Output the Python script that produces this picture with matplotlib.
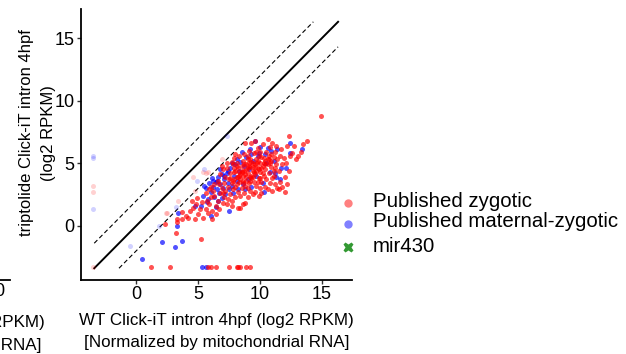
import matplotlib
matplotlib.use("Agg")
import matplotlib.pyplot as plt
from matplotlib.lines import Line2D

plt.rcParams['font.family'] = ['Liberation Sans', 'DejaVu Sans']

# ---------------- data ----------------
zyg_x = [2.3, 3.2, 3.3, 3.3, 3.7, 3.7, 4.0, 4.2, 4.35, 4.5, 4.75, 4.6, 4.9, 5.0, 5.15, 5.2, 5.3, 5.4, 4.8,
         5.6, 5.6, 5.8, 5.9, 6.0, 6.1, 6.1, 6.2, 6.3, 6.4, 6.0, 5.7, 6.3, 6.45, 5.9,
         6.6, 6.6, 6.7, 6.8, 6.8, 6.9, 7.0, 7.0, 7.1, 7.1, 7.2, 7.2, 7.3, 7.3, 7.4, 7.4, 7.5, 6.7, 7.0, 7.3, 6.9,
         7.6, 7.6, 7.7, 7.7, 7.75, 7.8, 7.8, 7.9, 7.9, 8.0, 8.0, 8.0, 8.1, 8.1, 8.2, 8.2, 8.2, 8.3, 8.3, 8.4, 8.4, 8.4,
         8.5, 8.5, 7.6, 7.9, 8.1, 8.3, 7.7, 8.0,
         8.6, 8.6, 8.6, 8.7, 8.7, 8.8, 8.8, 8.8, 8.9, 8.9, 9.0, 9.0, 9.0, 9.1, 9.1, 9.2, 9.2, 9.2, 9.3, 9.3, 9.4, 9.4,
         9.4, 9.5, 9.5, 8.7, 9.0, 9.3, 8.9, 9.1, 9.2, 9.45,
         9.6, 9.6, 9.6, 9.7, 9.7, 9.8, 9.8, 9.9, 9.9, 10.0, 10.0, 10.0, 10.1, 10.1, 10.2, 10.2, 10.3, 10.3, 10.4, 10.4,
         10.5, 10.5, 9.7, 9.9, 10.1, 10.3, 9.8, 10.0,
         10.6, 10.6, 10.6, 10.7, 10.7, 10.8, 10.8, 10.9, 10.9, 11.0, 11.0, 11.0, 11.1, 11.1, 11.2, 11.2, 11.3, 11.3,
         11.4, 11.4, 11.5, 11.5, 10.8, 11.1,
         11.6, 11.6, 11.7, 11.8, 11.9, 12.0, 12.0, 12.15, 12.2, 12.3, 12.4, 12.3, 11.8, 12.1,
         12.7, 12.9, 13.1, 13.3, 13.5, 13.8, 14.9, 12.6,
         8.4, 8.8, 9.6, 10.2, 9.1, 8.6, 9.9, 10.7, 8.2, 9.4, 7.8, 10.4, 9.0, 8.5, 9.7,
         8.3, 8.7, 9.0, 9.5, 9.8, 10.1, 10.4, 8.9, 9.3, 9.6, 10.0, 10.6, 8.5, 9.2, 7.9, 8.1, 10.9, 11.2, 9.75, 8.65,
         1.2, 2.7, 5.8, 6.0, 6.4, 7.5, 8.1, 8.2, 8.4, 8.9, 9.2]
zyg_y = [0.1, -0.6, 0.3, 0.5, 0.5, 1.1, 0.75, 0.6, 1.15, 1.95, 0.5, 1.4, 2.2, 0.9, 1.3, -1.1, 1.9, 0.65, 1.7,
         1.3, 2.6, 1.0, 1.7, 2.3, 1.15, 0.55, 2.8, 2.4, 1.6, 3.1, 2.0, 3.3, 0.9, 2.9,
         2.0, 3.6, 1.3, 2.6, 4.1, 3.0, 1.8, 4.5, 2.3, 3.4, 3.9, 2.8, 1.7, 4.6, 3.1, 2.1, 3.7, 3.3, 2.6, 5.0, 4.8,
         2.5, 4.2, 1.6, 3.4, 2.0, 4.9, 2.9, 3.7, 5.4, 2.3, 4.4, 3.1, 3.9, 5.0, 1.45, 2.7, 4.6, 3.5, 5.6, 2.4, 4.1, 1.4,
         3.0, 4.8, 3.8, 4.6, 3.3, 4.3, 5.1, 5.7,
         1.75, 3.6, 5.2, 2.6, 4.4, 6.6, 3.2, 1.8, 4.9, 3.9, 2.3, 5.6, 4.2, 3.4, 6.0, 2.8, 4.7, 5.3, 3.8, 6.6, 4.4, 2.5,
         5.0, 3.5, 5.8, 5.7, 3.0, 4.0, 4.5, 5.0, 3.6, 4.7,
         6.75, 4.1, 2.7, 5.3, 3.2, 4.6, 6.2, 3.8, 2.4, 5.0, 4.3, 5.9, 2.65, 3.5, 4.8, 6.5, 4.0, 5.4, 3.1, 4.5,
         5.9, 3.7, 4.4, 5.6, 4.6, 5.0, 3.5, 3.0,
         6.9, 4.9, 2.9, 4.2, 5.6, 3.4, 6.3, 4.7, 5.2, 3.8, 6.6, 2.8, 4.4, 5.5, 5.9, 3.3, 4.9, 6.4,
         5.3, 3.0, 2.9, 4.4, 5.0, 4.0,
         5.6, 3.5, 6.1, 4.9, 5.4, 3.9, 2.7, 3.3, 6.4, 7.15, 5.6, 4.4, 3.1, 5.0,
         6.4, 5.3, 5.55, 5.9, 6.5, 6.8, 8.75, 5.8,
         3.7, 4.1, 4.9, 4.2, 4.8, 4.0, 4.5, 5.3, 3.9, 3.9, 3.6, 5.2, 5.3, 4.3, 5.9,
         4.0, 4.9, 4.6, 4.3, 5.2, 5.5, 4.9, 3.6, 5.1, 4.7, 3.8, 5.3, 4.4, 3.9, 4.3, 4.8, 5.7, 4.6, 5.0, 3.4,
         -3.3, -3.3, -3.3, -3.3, -3.3, -3.3, -3.3, -3.3, -3.3, -3.3, -3.3]

mz_x = [0.45, 2.1, 3.1, 3.7, 3.3, 3.4, 4.75, 5.2, 5.7, 6.4,
        5.4, 5.6, 5.8, 5.9, 6.0, 6.1, 6.2, 6.3, 6.4, 6.5, 6.6, 6.7, 6.8, 6.9, 7.0, 7.1, 7.2, 7.3, 7.4, 7.5,
        7.6, 7.7, 7.8, 7.9, 8.0, 8.1, 8.1, 8.2, 8.3, 8.5, 8.6, 8.7, 8.8, 8.9, 9.0, 9.1, 9.2, 9.3, 9.4, 9.6,
        9.7, 9.8, 10.0, 10.2, 10.3, 10.4, 10.6, 10.8, 10.9, 11.1, 11.2, 11.3, 11.4, 11.6, 11.7, 12.1, 12.4, 12.4,
        13.4, 6.6, 7.45, 6.0, 6.8, 7.4, 7.7, 8.4, 9.3, 9.9, 10.5, 6.2, 6.9, 5.5, 6.5, 7.1,
        5.3, 5.6]
mz_y = [-2.7, -1.3, -1.7, -1.25, -0.05, 1.0, 1.55, 1.55, 1.9, 1.5,
        2.4, 3.0, 2.1, 3.4, 2.7, 3.8, 3.1, 2.3, 3.5, 2.9, 3.9, 2.6, 3.3, 4.1, 3.0, 3.7, 2.5, 4.2, 3.4, 2.9,
        4.6, 3.2, 2.6, 4.0, 4.9, 5.3, 3.6, 2.9, 4.4, 5.9, 3.3, 4.8, 2.9, 5.5, 3.7, 4.5, 6.1, 3.1, 5.2, 6.8,
        4.0, 5.6, 6.3, 3.4, 2.7, 5.7, 6.2, 4.3, 6.0, 5.2, 4.2, 3.9, 6.1, 3.7, 4.6, 4.6, 6.6, 5.85,
        6.15, 2.0, 1.15, 0.75, 4.5, 4.4, 5.0, 5.1, 5.7, 5.8, 5.0, 3.6, 2.2, 3.2, 3.6, 4.0,
        -3.3, -3.3]

faded_zyg_x = [-3.5, -3.5, -3.5, 2.4, 3.4, 4.6, 4.7, 5.4, 5.8, 6.9, 5.6, 2.5]
faded_zyg_y = [3.2, 2.7, -3.3, 1.05, 2.0, 3.9, 2.8, 4.3, 4.3, 5.3, 4.2, 1.0]
faded_mz_x = [-3.5, -3.5, -3.5, -0.5, 1.85, 3.2, 4.9, 5.5, 7.3]
faded_mz_y = [5.55, 5.4, 1.3, -1.6, -0.05, 1.5, 3.6, 4.5, 7.15]

line_lo, line_hi, fold = -3.4, 16.3, 2.0

xticks = [0, 5, 10, 15]
yticks = [0, 5, 10, 15]
legend_labels = ["Published zygotic", "Published maternal-zygotic", "mir430"]

# ---------------- figure ----------------
W, H = 626, 354
fig = plt.figure(figsize=(W / 100, H / 100), dpi=100)
ax = fig.add_axes([81 / W, (H - 280) / H, 270.7 / W, 270.7 / H])

ax.plot([line_lo, line_hi], [line_lo, line_hi], color='black', lw=1.4, zorder=1)
ax.plot([line_lo, line_hi - fold], [line_lo + fold, line_hi], color='black', lw=0.8,
        ls=(0, (4, 2.5)), zorder=1)
ax.plot([line_lo + fold, line_hi], [line_lo, line_hi - fold], color='black', lw=0.8,
        ls=(0, (4, 2.5)), zorder=1)

ms = 13
ax.scatter(faded_zyg_x, faded_zyg_y, s=ms, color='red', alpha=0.18, lw=0, zorder=2)
ax.scatter(faded_mz_x, faded_mz_y, s=ms, color='blue', alpha=0.18, lw=0, zorder=2)
ax.scatter(mz_x, mz_y, s=ms, color='blue', alpha=0.68, lw=0, zorder=3)
ax.scatter(zyg_x, zyg_y, s=ms, color='red', alpha=0.68, lw=0, zorder=3)

ax.set_xlim(-4.47, 17.4)
ax.set_ylim(-4.34, 17.3)
ax.set_xticks(xticks)
ax.set_yticks(yticks)
ax.tick_params(labelsize=13, length=3, width=1, color='#333333', labelcolor='black', pad=1.5)
for s in ['top', 'right']:
    ax.spines[s].set_visible(False)
for s in ['left', 'bottom']:
    ax.spines[s].set_linewidth(1.3)
    ax.spines[s].set_color('black')

ax.set_xlabel("WT Click-iT intron 4hpf (log2 RPKM)\n[Normalized by mitochondrial RNA]",
              fontsize=12.25, labelpad=7, linespacing=1.6)
ax.set_ylabel("triptolide Click-iT intron 4hpf\n(log2 RPKM)", fontsize=12.0,
              linespacing=1.55)
ax.yaxis.set_label_coords((56 - 81) / 270.7, 0.543)

# legend (drawn manually to match spacing)
leg_markers = [('o', '#FF8080', 6.0), ('o', '#8080FF', 6.0), ('X', '#339933', 7.8)]
marker_py = [202.7, 224.0, 246.7]
text_py = [206.7, 227.0, 251.7]
for (mk, col, sz), mpy, tpy, lab in zip(leg_markers, marker_py, text_py, legend_labels):
    fig.add_artist(Line2D([348 / W], [(H - mpy) / H], ls='none', marker=mk, ms=sz, mfc=col,
                          mec='none', transform=fig.transFigure))
    fig.text(373 / W, (H - tpy) / H, lab, ha='left', va='baseline', fontsize=14.7)

# fragments of the neighbouring panel at the left edge
fig.add_artist(Line2D([0, 10 / W], [(H - 280) / H, (H - 280) / H], color='black', lw=1.3))
fig.text(5.5 / W, (H - 291) / H, "10", ha='right', va='center', fontsize=13)
fig.text(45 / W, (H - 327) / H, "WT Click-iT intron 4hpf (log2 RPKM)", ha='right',
         va='baseline', fontsize=12.25)
fig.text(42 / W, (H - 350) / H, "[Normalized by mitochondrial RNA]", ha='right',
         va='baseline', fontsize=12.25)

fig.savefig("out.png", dpi=100)
